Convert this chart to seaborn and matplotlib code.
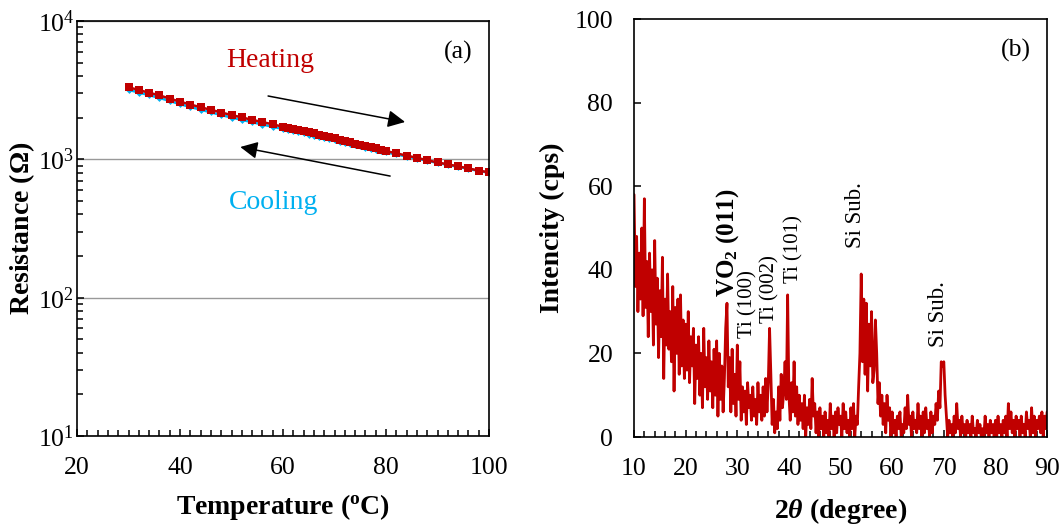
import numpy as np
import pandas as pd
import matplotlib
matplotlib.use("Agg")
import matplotlib.pyplot as plt
import seaborn as sns
from matplotlib.ticker import MultipleLocator, LogLocator

# ---- R-T data (resistance in ohm) ----
temp = [30, 32, 34, 36, 38, 40, 42, 44, 46, 48, 50, 52, 54, 56, 58,
        60, 61, 62, 63, 64, 65, 66, 67, 68, 69, 70, 71, 72, 73, 74, 75,
        76, 77, 78, 79, 80,
        82, 84, 86, 88, 90, 92, 94, 96, 98, 100]
r_heating = [3320, 3170, 3030, 2900, 2750, 2610, 2490, 2380, 2280, 2180, 2090, 2010, 1930, 1860, 1790,
             1720, 1690, 1660, 1630, 1600, 1570, 1540, 1510, 1480, 1450, 1420, 1390, 1360, 1330, 1300, 1275,
             1250, 1225, 1200, 1175, 1148,
             1105, 1065, 1025, 985, 950, 920, 890, 860, 830, 805]
r_cooling = [3180, 3040, 2910, 2780, 2640, 2505, 2390, 2285, 2185, 2090, 2005, 1930, 1855, 1785, 1720,
             1655, 1625, 1597, 1568, 1540, 1510, 1482, 1455, 1428, 1400, 1373, 1345, 1318, 1290, 1264, 1240,
             1216, 1192, 1168, 1145, 1122,
             1085, 1048, 1012, 976, 942, 912, 882, 853, 825, 800]

# ---- XRD scan, 2theta from 10 to 90 deg in 0.25 deg steps ----
two_theta_start, two_theta_step = 10.0, 0.25
xrd_counts = [
    58, 36, 48, 30, 44, 33, 50, 29, 57, 31, 42, 24, 44, 30, 40, 22, 47, 27, 38, 19,   # 10-15
    35, 24, 43, 14, 33, 22, 39, 21, 30, 18, 36, 11, 31, 20, 33, 15, 34, 17, 28, 14,   # 15-20
    27, 16, 30, 13, 24, 17, 26, 8, 22, 14, 24, 10, 20, 7, 26, 12, 19, 9, 23, 11,      # 20-25
    18, 7, 21, 10, 23, 5, 20, 9, 17, 6, 14, 26, 32, 12, 19, 6, 21, 8, 15, 5,          # 25-30
    22, 9, 18, 4, 12, 6, 11, 3, 13, 7, 10, 4, 12, 5, 9, 3, 13, 6, 10, 4,              # 30-35
    12, 5, 14, 6, 13, 26, 15, 3, 9, 1, 6, 2, 12, 4, 15, 7, 11, 18, 9, 34,             # 35-40
    10, 4, 13, 6, 18, 5, 12, 3, 10, 4, 8, 2, 10, 0, 7, 3, 9, 2, 14, 5,                # 40-45
    8, 1, 6, 0, 7, 2, 5, 0, 6, 1, 4, 0, 8, 2, 5, 0, 6, 1, 7, 3,                       # 45-50
    5, 0, 8, 2, 6, 1, 4, 0, 7, 2, 8, 0, 5, 3, 12, 20, 39, 18, 33, 15,                 # 50-55
    32, 11, 27, 17, 30, 13, 16, 28, 20, 8, 13, 5, 10, 3, 8, 1, 10, 4, 7, 0,           # 55-60
    6, 1, 4, 0, 5, 2, 6, 0, 3, 1, 7, 2, 10, 3, 5, 0, 6, 2, 4, 1,                      # 60-65
    8, 2, 5, 0, 6, 1, 7, 2, 4, 0, 6, 1, 5, 3, 8, 4, 11, 7, 18, 17,                    # 65-70
    18, 10, 5, 0, 4, 1, 3, 0, 5, 1, 8, 2, 4, 0, 5, 1, 3, 0, 4, 1,                     # 70-75
    3, 0, 5, 1, 2, 0, 4, 1, 3, 0, 2, 0, 5, 1, 3, 0, 4, 1, 3, 0,                       # 75-80
    4, 0, 5, 1, 3, 0, 4, 1, 5, 0, 8, 2, 6, 1, 4, 0, 5, 2, 4, 0,                       # 80-85
    5, 1, 3, 0, 6, 2, 4, 0, 7, 1, 5, 0, 4, 2, 5, 1, 6, 0, 5, 2,                       # 85-90
    6,
]
two_theta = two_theta_start + two_theta_step * np.arange(len(xrd_counts))

# peak labels: (text, 2theta, y, fontsize, bold)
peak_labels = [
    (r"VO$_{\mathbf{2}}$ (011)", 28.1, 33.5, 18, True),
    ("Ti (100)", 32.1, 23.7, 15, False),
    ("Ti (002)", 36.4, 27.3, 15, False),
    ("Ti (101)", 40.9, 36.8, 15, False),
    ("Si Sub.", 52.9, 45.2, 16.5, False),
    ("Si Sub.", 69.0, 21.5, 16.5, False),
]

RED = "#C00000"
CYAN = "#00B0F0"

sns.set_theme(style="ticks")
plt.rcParams["font.family"] = ["Liberation Serif", "DejaVu Serif"]
plt.rcParams["mathtext.fontset"] = "custom"
plt.rcParams["mathtext.rm"] = "Liberation Serif"
plt.rcParams["mathtext.it"] = "Liberation Serif:italic"
plt.rcParams["mathtext.bf"] = "Liberation Serif:bold"
plt.rcParams["mathtext.bfit"] = "Liberation Serif:italic:bold"
plt.rcParams["axes.linewidth"] = 1.2
plt.rcParams["text.color"] = "black"
plt.rcParams["axes.labelcolor"] = "black"

fig = plt.figure(figsize=(10.64, 5.25), dpi=100)
ax1 = fig.add_axes([0.0724, 0.1695, 0.3872, 0.7905])
ax2 = fig.add_axes([0.5959, 0.1676, 0.3882, 0.7962])

# ---------------- (a) resistance vs temperature ----------------
df_rt = pd.DataFrame({"T": temp + temp,
                      "R": r_cooling + r_heating,
                      "run": ["Cooling"] * len(temp) + ["Heating"] * len(temp)})
sns.lineplot(data=df_rt[df_rt.run == "Cooling"], x="T", y="R", ax=ax1, color=CYAN,
             marker="D", markersize=3.5, markeredgewidth=0, linewidth=1.8, estimator=None)
sns.lineplot(data=df_rt[df_rt.run == "Heating"], x="T", y="R", ax=ax1, color=RED,
             marker="s", markersize=5.6, markeredgewidth=0, linewidth=1.8, estimator=None)
ax1.set_yscale("log")
ax1.set_xlim(20, 100)
ax1.set_ylim(10, 1e4)
ax1.xaxis.set_major_locator(MultipleLocator(20))
ax1.xaxis.set_minor_locator(MultipleLocator(2))
ax1.yaxis.set_major_locator(LogLocator(base=10))
ax1.yaxis.set_minor_locator(LogLocator(base=10, subs=np.arange(2, 10)))
ax1.yaxis.grid(True, which="major", color="#999999", linewidth=1.0)
ax1.set_axisbelow(True)
ax1.tick_params(axis="both", which="both", direction="in", colors="black", labelsize=18.5)
ax1.tick_params(axis="both", which="major", length=5, width=1.1)
ax1.tick_params(axis="both", which="minor", length=4, width=1.1)
ax1.tick_params(axis="x", pad=15)
ax1.tick_params(axis="y", pad=2)
ax1.set_xlabel(r"Temperature ($^{\mathbf{o}}$C)", fontsize=20, fontweight="bold")
ax1.set_ylabel(r"Resistance ($\mathbf{\Omega}$)", fontsize=20, fontweight="bold")
ax1.xaxis.set_label_coords(0.5, -0.135)
ax1.yaxis.set_label_coords(-0.097, 0.5)
ax1.text(57.5, 5140, "Heating", color=RED, fontsize=20, ha="center", va="center")
ax1.text(58.1, 491, "Cooling", color=CYAN, fontsize=20, ha="center", va="center")
ax1.annotate("", xy=(83.7, 1862), xytext=(57.1, 2870),
             arrowprops=dict(arrowstyle="-|>", color="black", lw=1.1, mutation_scale=26,
                             shrinkA=0, shrinkB=0))
ax1.annotate("", xy=(51.7, 1228), xytext=(80.8, 757),
             arrowprops=dict(arrowstyle="-|>", color="black", lw=1.1, mutation_scale=26,
                             shrinkA=0, shrinkB=0))
ax1.text(0.925, 0.925, "(a)", transform=ax1.transAxes, fontsize=18.5, ha="center", va="center")
if ax1.legend_:
    ax1.legend_.remove()

# ---------------- (b) XRD pattern ----------------
df_xrd = pd.DataFrame({"two_theta": two_theta, "counts": xrd_counts})
sns.lineplot(data=df_xrd, x="two_theta", y="counts", ax=ax2, color=RED,
             linewidth=2.0, estimator=None)
ax2.set_xlim(10, 90)
ax2.set_ylim(0, 100)
ax2.xaxis.set_major_locator(MultipleLocator(10))
ax2.xaxis.set_minor_locator(MultipleLocator(2))
ax2.yaxis.set_major_locator(MultipleLocator(20))
ax2.tick_params(axis="both", which="both", direction="in", colors="black", labelsize=18.5)
ax2.tick_params(axis="both", which="major", length=5, width=1.1)
ax2.tick_params(axis="both", which="minor", length=4, width=1.1)
ax2.tick_params(axis="x", pad=15)
ax2.tick_params(axis="y", pad=15)
ax2.set_xlabel(r"2$\mathbfit{\theta}$ (degree)", fontsize=20, fontweight="bold")
ax2.set_ylabel("Intencity (cps)", fontsize=20, fontweight="bold")
ax2.xaxis.set_label_coords(0.5, -0.14)
ax2.yaxis.set_label_coords(-0.167, 0.5)
for text, x, y, fs, bold in peak_labels:
    ax2.text(x, y, text, rotation=90, ha="center", va="bottom", fontsize=fs,
             fontweight="bold" if bold else "normal", color="black")
ax2.text(0.925, 0.925, "(b)", transform=ax2.transAxes, fontsize=18.5, ha="center", va="center")

for ax in (ax1, ax2):
    for s in ax.spines.values():
        s.set_visible(True)
        s.set_color("black")
        s.set_linewidth(1.2)

fig.savefig("out.png", dpi=100)
